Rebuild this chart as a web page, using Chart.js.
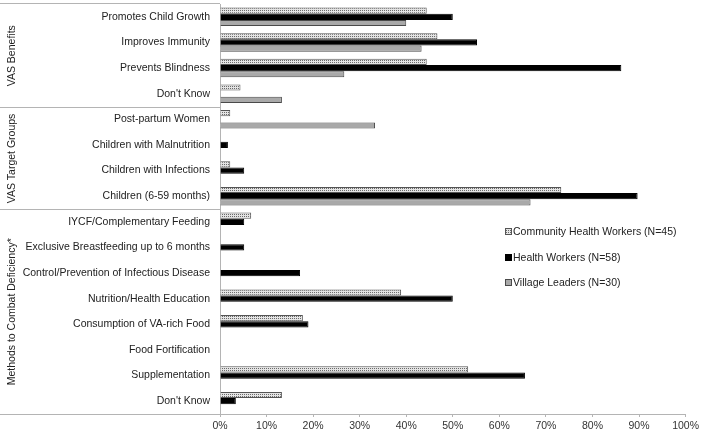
<!DOCTYPE html>
<html>
<head>
<meta charset="utf-8">
<script src="https://cdn.jsdelivr.net/npm/chart.js@4"></script>
<style>
  body { margin: 0; background: #fff; }
  #wrap { width: 702px; height: 435px; }
</style>
</head>
<body>
<div id="wrap"><canvas id="chart"></canvas></div>
<script>
const categories = [
    'Promotes Child Growth', 'Improves Immunity', 'Prevents Blindness', "Don't Know",
    'Post-partum Women', 'Children with Malnutrition', 'Children with Infections', 'Children (6-59 months)',
    'IYCF/Complementary Feeding', 'Exclusive Breastfeeding up to 6 months', 'Control/Prevention of Infectious Disease',
    'Nutrition/Health Education', 'Consumption of VA-rich Food', 'Food Fortification', 'Supplementation', "Don't Know"
];
const seriesNames = ['Community Health Workers (N=45)', 'Health Workers (N=58)', 'Village Leaders (N=30)'];
const chwValues = [44.4, 46.7, 44.4, 4.4, 2.2, 0, 2.2, 73.3, 6.7, 0, 0, 38.9, 17.8, 0, 53.3, 13.3];
const hwValues = [50.0, 55.2, 86.2, 0, 0, 1.7, 5.2, 89.7, 5.2, 5.2, 17.2, 50.0, 19.0, 0, 65.5, 3.4];
const vlValues = [40.0, 43.3, 26.7, 13.3, 33.3, 0, 0, 66.7, 0, 0, 0, 0, 0, 0, 0, 0];
const groupNames = ['VAS Benefits', 'VAS Target Groups', 'Methods to Combat Deficiency*'];
const groupSizes = [4, 4, 8];
const xTickStep = 10;
const xMax = 100;

const FONT = '"Liberation Sans", Arial, sans-serif';
const LABEL_SIZE = 10.5;

// dotted fill for the community health workers bars
function makeDots() {
    const c = document.createElement('canvas');
    c.width = 2; c.height = 2;
    const g = c.getContext('2d');
    g.fillStyle = '#e4e4e4';
    g.fillRect(0, 0, 2, 2);
    g.fillStyle = '#6a6a6a';
    g.fillRect(0, 0, 1, 1);
    return g.createPattern(c, 'repeat');
}
const dots = makeDots();

const fills = [dots, '#000000', '#a9a9a9'];
const borders = ['#555555', '#000000', '#4a4a4a'];

// group labels, box lines and legend
const framePlugin = {
    id: 'frame',
    afterDraw(chart) {
        const ctx = chart.ctx;
        const area = chart.chartArea;
        const yScale = chart.scales.y;
        ctx.save();
        ctx.strokeStyle = '#b4b4b4';
        ctx.lineWidth = 1;
        ctx.beginPath();
        ctx.moveTo(0, area.top - 0.5);
        ctx.lineTo(area.left, area.top - 0.5);
        ctx.moveTo(0, area.bottom + 0.5);
        ctx.lineTo(area.left, area.bottom + 0.5);
        let idx = 0;
        const bounds = [area.top];
        groupSizes.forEach((n, i) => {
            idx += n;
            if (i < groupSizes.length - 1) {
                const y = Math.round(yScale.getPixelForValue(idx - 0.5)) + 0.5;
                ctx.moveTo(0, y);
                ctx.lineTo(area.left, y);
                bounds.push(y);
            }
        });
        bounds.push(area.bottom);
        ctx.stroke();

        ctx.fillStyle = '#222';
        ctx.font = LABEL_SIZE + 'px ' + FONT;
        ctx.textAlign = 'center';
        ctx.textBaseline = 'middle';
        groupNames.forEach((name, i) => {
            const cy = (bounds[i] + bounds[i + 1]) / 2;
            ctx.save();
            ctx.translate(12, cy);
            ctx.rotate(-Math.PI / 2);
            ctx.fillText(name, 0, 0);
            ctx.restore();
        });

        // legend
        const lx = 505, ly = [232, 258, 283];
        ctx.textAlign = 'left';
        seriesNames.forEach((name, i) => {
            ctx.fillStyle = fills[i];
            ctx.fillRect(lx, ly[i] - 4, 7, 7);
            ctx.strokeStyle = borders[i];
            ctx.strokeRect(lx + 0.5, ly[i] - 3.5, 6, 6);
            ctx.fillStyle = '#222';
            ctx.fillText(name, lx + 8, ly[i]);
        });
        ctx.restore();
    }
};

new Chart(document.getElementById('chart'), {
    type: 'bar',
    data: {
        labels: categories,
        datasets: [chwValues, hwValues, vlValues].map((vals, i) => ({
            label: seriesNames[i],
            data: vals,
            backgroundColor: fills[i],
            borderColor: borders[i],
            borderWidth: 1,
            categoryPercentage: 0.72,
            barPercentage: 1.0
        }))
    },
    options: {
        indexAxis: 'y',
        responsive: true,
        maintainAspectRatio: false,
        animation: false,
        layout: { padding: { top: 4, right: 15, left: 0, bottom: 0 } },
        plugins: {
            legend: { display: false },
            tooltip: { enabled: false }
        },
        scales: {
            x: {
                min: 0,
                max: xMax,
                ticks: {
                    stepSize: xTickStep,
                    color: '#333',
                    font: { family: FONT, size: 10.5 },
                    padding: 3,
                    callback: v => v + '%'
                },
                grid: { drawOnChartArea: false, drawTicks: true, tickLength: 3, color: '#b4b4b4' },
                border: { color: '#b4b4b4' },
                afterFit: s => { s.height = 21; }
            },
            y: {
                ticks: {
                    color: '#222',
                    font: { family: FONT, size: LABEL_SIZE },
                    padding: 10,
                    autoSkip: false
                },
                grid: { drawOnChartArea: false, drawTicks: false },
                border: { color: '#b4b4b4' },
                afterFit: s => { s.width = 220; s.paddingTop = 0; s.paddingBottom = 0; }
            }
        }
    },
    plugins: [framePlugin]
});
</script>
</body>
</html>
